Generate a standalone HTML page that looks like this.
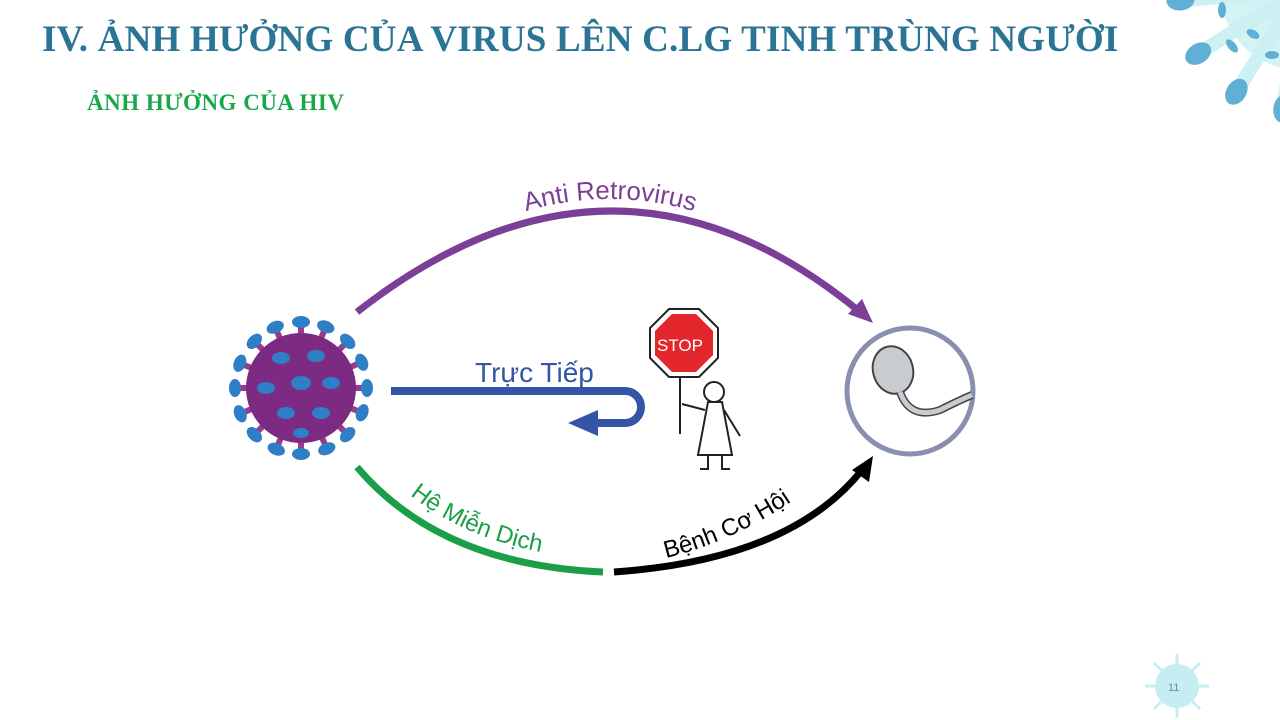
<!DOCTYPE html>
<html><head><meta charset="utf-8"><style>
html,body{margin:0;padding:0;background:#fff;}
body{width:1280px;height:720px;overflow:hidden;position:relative;font-family:"Liberation Sans",sans-serif;}
.t{position:absolute;left:42px;top:18px;font-family:"Liberation Serif",serif;font-weight:bold;font-size:37px;letter-spacing:0.2px;color:#2a7496;white-space:nowrap;}
.s{position:absolute;left:87px;top:90px;font-family:"Liberation Serif",serif;font-weight:bold;font-size:23px;letter-spacing:0.5px;color:#18a84a;white-space:nowrap;}
</style></head><body>
<svg width="1280" height="720" style="position:absolute;left:0;top:0">
<defs>
<g id="sp"><line x1="0" y1="0" x2="0" y2="-62" stroke="#9c3a8c" stroke-width="6"/><ellipse cx="0" cy="-66" rx="9" ry="6" fill="#2f7fc6"/></g>
<g id="ds"><line x1="0" y1="0" x2="0" y2="-118" stroke="#cdf0f2" stroke-width="14"/><ellipse cx="0" cy="-120" rx="10" ry="14" fill="#5fb0d4"/></g>
</defs>
<!-- decorative virus top right -->
<g transform="translate(1300,-10)">
<circle r="80" fill="#d4f3f4"/>
<use href="#ds" transform="rotate(-95)"/><use href="#ds" transform="rotate(-122)"/><use href="#ds" transform="rotate(-148)"/><use href="#ds" transform="rotate(-172)"/>
</g>
<ellipse cx="1222" cy="10" rx="4" ry="8" fill="#5fb0d4"/><ellipse cx="1253" cy="34" rx="7" ry="4" fill="#5fb0d4" transform="rotate(30 1253 34)"/><ellipse cx="1232" cy="46" rx="4" ry="8" fill="#5fb0d4" transform="rotate(-40 1232 46)"/><ellipse cx="1272" cy="55" rx="7" ry="4" fill="#5fb0d4"/>
<!-- small page virus -->
<g transform="translate(1177,686)" stroke="#c6ecf4" stroke-width="3">
<line x1="-32" y1="0" x2="32" y2="0"/><line x1="0" y1="-32" x2="0" y2="32"/><line x1="-23" y1="-23" x2="23" y2="23"/><line x1="-23" y1="23" x2="23" y2="-23"/>
</g>
<circle cx="1177" cy="686" r="22" fill="#c6ecf4"/>
<text x="1168" y="691" font-size="11" fill="#6a8aa0" font-family="Liberation Sans">11</text>
<!-- arcs -->
<path d="M357,312 Q615,110 860,312" fill="none" stroke="#7c3f98" stroke-width="7"/>
<polygon points="873,323 848,314 862,299" fill="#7c3f98"/>
<path id="pa" d="M500,220 Q610,178 720,220" fill="none"/>
<text font-size="26" fill="#7c3f98" font-family="Liberation Sans"><textPath href="#pa" startOffset="50%" text-anchor="middle">Anti Retrovirus</textPath></text>
<path d="M357,467 Q440,565 603,572" fill="none" stroke="#1a9e48" stroke-width="7"/>
<path id="pg" d="M410,495 Q470,543 565,556" fill="none"/>
<text font-size="24" fill="#1a9e48"><textPath href="#pg">Hệ Miễn Dịch</textPath></text>
<path d="M614,572 Q790,560 862,470" fill="none" stroke="#000" stroke-width="7"/>
<polygon points="873,456 869,482 852,470" fill="#000"/>
<path id="pb" d="M666,558 Q740,540 808,490" fill="none"/>
<text font-size="24" fill="#000"><textPath href="#pb">Bệnh Cơ Hội</textPath></text>
<!-- truc tiep -->
<path d="M391,391 H625 a16,16 0 0 1 0,32 H595" fill="none" stroke="#3455a6" stroke-width="8"/>
<polygon points="568,423 598,410 598,436" fill="#3455a6"/>
<text x="475" y="382" font-size="28" fill="#3455a6">Trực Tiếp</text>
<!-- stop sign -->
<polygon points="669,309 699,309 718,328 718,358 699,377 669,377 650,358 650,328" fill="#fff" stroke="#222" stroke-width="2"/>
<polygon points="672,314 696,314 713,331 713,355 696,372 672,372 655,355 655,331" fill="#e3262b"/>
<text x="657" y="351" font-size="17" fill="#fff">STOP</text>
<line x1="680" y1="377" x2="680" y2="434" stroke="#222" stroke-width="2"/>
<circle cx="714" cy="392" r="10" fill="#fff" stroke="#222" stroke-width="2"/>
<path d="M708,402 L698,455 L732,455 L722,402 Z M682,404 L705,410 M724,410 L740,436" fill="none" stroke="#222" stroke-width="2"/>
<path d="M708,455 v14 h-8 M722,455 v14 h8" fill="none" stroke="#222" stroke-width="2"/>
<!-- virus -->
<g transform="translate(301,388)">
<use href="#sp" transform="rotate(0)"/><use href="#sp" transform="rotate(22)"/><use href="#sp" transform="rotate(45)"/><use href="#sp" transform="rotate(67)"/><use href="#sp" transform="rotate(90)"/><use href="#sp" transform="rotate(112)"/><use href="#sp" transform="rotate(135)"/><use href="#sp" transform="rotate(157)"/><use href="#sp" transform="rotate(180)"/><use href="#sp" transform="rotate(202)"/><use href="#sp" transform="rotate(225)"/><use href="#sp" transform="rotate(247)"/><use href="#sp" transform="rotate(270)"/><use href="#sp" transform="rotate(292)"/><use href="#sp" transform="rotate(315)"/><use href="#sp" transform="rotate(337)"/>
<circle r="55" fill="#7d2a82"/>
<ellipse cx="-20" cy="-30" rx="9" ry="6" fill="#2f7fc6"/><ellipse cx="15" cy="-32" rx="9" ry="6" fill="#2f7fc6"/><ellipse cx="-35" cy="0" rx="9" ry="6" fill="#2f7fc6"/><ellipse cx="0" cy="-5" rx="10" ry="7" fill="#2f7fc6"/><ellipse cx="30" cy="-5" rx="9" ry="6" fill="#2f7fc6"/><ellipse cx="-15" cy="25" rx="9" ry="6" fill="#2f7fc6"/><ellipse cx="20" cy="25" rx="9" ry="6" fill="#2f7fc6"/><ellipse cx="0" cy="45" rx="8" ry="5" fill="#2f7fc6"/>
</g>
<!-- sperm circle -->
<circle cx="910" cy="391" r="63" fill="#fff" stroke="#8a8fb0" stroke-width="5"/>
<ellipse cx="893" cy="370" rx="20" ry="24" fill="#c8ccd0" stroke="#444" stroke-width="2" transform="rotate(-15 893 370)"/>
<path d="M900,392 Q910,420 940,410 Q960,400 972,395" fill="none" stroke="#444" stroke-width="8"/>
<path d="M900,392 Q910,420 940,410 Q960,400 972,395" fill="none" stroke="#c8ccd0" stroke-width="5"/>
</svg>
<div class="t">IV. ẢNH HƯỞNG CỦA VIRUS LÊN C.LG TINH TRÙNG NGƯỜI</div>
<div class="s">ẢNH HƯỞNG CỦA HIV</div>
</body></html>
